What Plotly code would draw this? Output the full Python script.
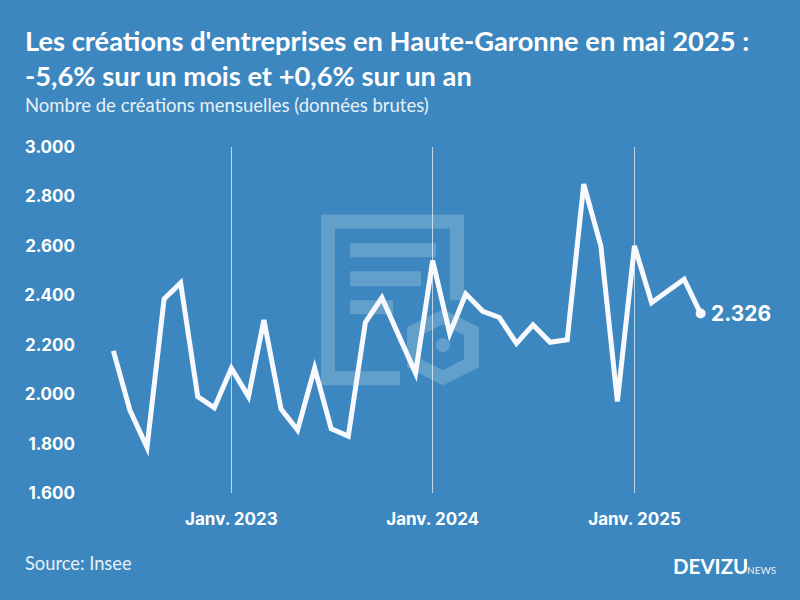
import plotly.graph_objects as go

W, H = 800, 600
BG = "#3c87bf"
ML, MR, MT, MB = 88, 10, 146.5, 107
months = [
    "2022-06", "2022-07", "2022-08", "2022-09", "2022-10", "2022-11", "2022-12",
    "2023-01", "2023-02", "2023-03", "2023-04", "2023-05", "2023-06", "2023-07",
    "2023-08", "2023-09", "2023-10", "2023-11", "2023-12", "2024-01", "2024-02",
    "2024-03", "2024-04", "2024-05", "2024-06", "2024-07", "2024-08", "2024-09",
    "2024-10", "2024-11", "2024-12", "2025-01", "2025-02", "2025-03", "2025-04",
    "2025-05",
]
creations = [
    2175, 1935, 1785, 2385, 2450, 1990, 1945,
    2105, 1990, 2300, 1940, 1855, 2105, 1860,
    1830, 2290, 2390, 2235, 2085, 2540, 2245,
    2405, 2335, 2310, 2205, 2280, 2210, 2220,
    2850, 2600, 1970, 2600, 2370, 2415, 2465,
    2326,
]
y_ticks = [1600, 1800, 2000, 2200, 2400, 2600, 2800, 3000]
y_labels = ["1.600", "1.800", "2.000", "2.200", "2.400", "2.600", "2.800", "3.000"]
x_ticks = ["2023-01-01", "2024-01-01", "2025-01-01"]
x_labels = ["Janv. 2023", "Janv. 2024", "Janv. 2025"]
dates = [m + "-01" for m in months]

FONT = "Lato"
WM = "rgba(255,255,255,0.2)"


def px(x):
    return (x - ML) / (W - ML - MR)


def py(y):
    return 1 - (y - MT) / (H - MT - MB)


def P(pts, close=False):
    s = "M" + " L".join(f"{px(a):.5f},{py(b):.5f}" for a, b in pts)
    return s + (" Z" if close else "")


shapes = []
shapes.append(dict(type="path", xref="paper", yref="paper", layer="below", line_width=0, fillcolor=WM,
                   path=P([(321, 214), (464, 214), (464, 300), (450, 300), (450, 228), (335, 228),
                           (335, 371), (400, 371), (400, 385), (321, 385)], True)))
for x0, y0, x1, y1 in [(350, 243, 436, 257), (350, 271, 421, 286), (350, 300, 393, 314)]:
    shapes.append(dict(type="rect", xref="paper", yref="paper", layer="below", line_width=0, fillcolor=WM,
                       x0=px(x0), x1=px(x1), y0=py(y0), y1=py(y1)))
outer = [(443, 309), (479, 327), (479, 367), (443, 385), (407, 367), (407, 327)]
inner = [(443, 324), (464, 335), (464, 359), (443, 370), (421, 359), (421, 335)]
shapes.append(dict(type="path", xref="paper", yref="paper", layer="below", line_width=0, fillcolor=WM,
                   path=P(outer, True) + " " + P(inner[::-1], True)))
shapes.append(dict(type="circle", xref="paper", yref="paper", layer="below", line_width=0, fillcolor=WM,
                   x0=px(436), x1=px(450), y0=py(338), y1=py(352)))

fig = go.Figure()
fig.add_trace(go.Scatter(x=dates, y=creations, mode="lines",
                         line=dict(color="#f8f9ff", width=5, shape="linear"),
                         hoverinfo="skip", showlegend=False))
fig.add_trace(go.Scatter(x=dates[-1:], y=creations[-1:], mode="markers",
                         marker=dict(color="#f8f9ff", size=10),
                         hoverinfo="skip", showlegend=False))


def T(x, y, text, size, bold=False, color="white", anchor="left", family=FONT):
    fig.add_annotation(xref="paper", yref="paper", x=px(x), y=py(y), text=f"<b>{text}</b>" if bold else text,
                       showarrow=False, xanchor=anchor, yanchor="middle", align=anchor,
                       font=dict(family=family, size=size, color=color), borderpad=0)


T(24, 39.5, "Les créations d'entreprises en Haute-Garonne en mai 2025 :", 27.3, True)
T(24, 74.5, "-5,6% sur un mois et +0,6% sur un an", 27.3, True)
T(24, 104, "Nombre de créations mensuelles (données brutes)", 18.5, color="#e8f0f7")
T(24, 563, "Source: Insee", 18.3, color="#e8f0f7")
T(672, 566, "DEVIZU", 20.5, True)
T(746, 570, "NEWS", 10, color="#e8f0f7")

fig.add_annotation(x=dates[-1], y=creations[-1], text="<b>2.326</b>", showarrow=False, xanchor="left",
                   xshift=8, yanchor="middle", font=dict(family="Inter", size=21, color="white"))

fig.update_layout(
    width=W, height=H, paper_bgcolor=BG, plot_bgcolor="rgba(0,0,0,0)",
    margin=dict(l=ML, r=MR, t=MT, b=MB), shapes=shapes, showlegend=False,
    font=dict(family=FONT, color="white"),
    xaxis=dict(type="date", range=["2022-04-16", "2025-10-10"], tickmode="array",
               tickvals=x_ticks, ticktext=[f"<b>{t}</b>" for t in x_labels],
               tickfont=dict(family="Inter", size=17, color="white"),
               showgrid=True, gridcolor="rgba(255,255,255,0.65)", gridwidth=1,
               zeroline=False, showline=False, ticks="", ticklabelstandoff=14),
    yaxis=dict(range=[1600, 3000], tickmode="array", tickvals=y_ticks,
               ticktext=[f"<b>{t}</b>" for t in y_labels],
               tickfont=dict(family="Inter", size=17, color="white"),
               showgrid=False, zeroline=False, showline=False, ticks="", ticklabelstandoff=12),
)
post = (
    "document.body.style.margin='0';document.documentElement.style.background='" + BG + "';"
    "document.querySelectorAll('.js-line').forEach(function(e){"
    "e.style.strokeLinejoin='miter';e.style.strokeMiterlimit='4';e.style.strokeLinecap='butt';});"
)
fig.write_html("out.html", config={"displayModeBar": False}, post_script=post)
